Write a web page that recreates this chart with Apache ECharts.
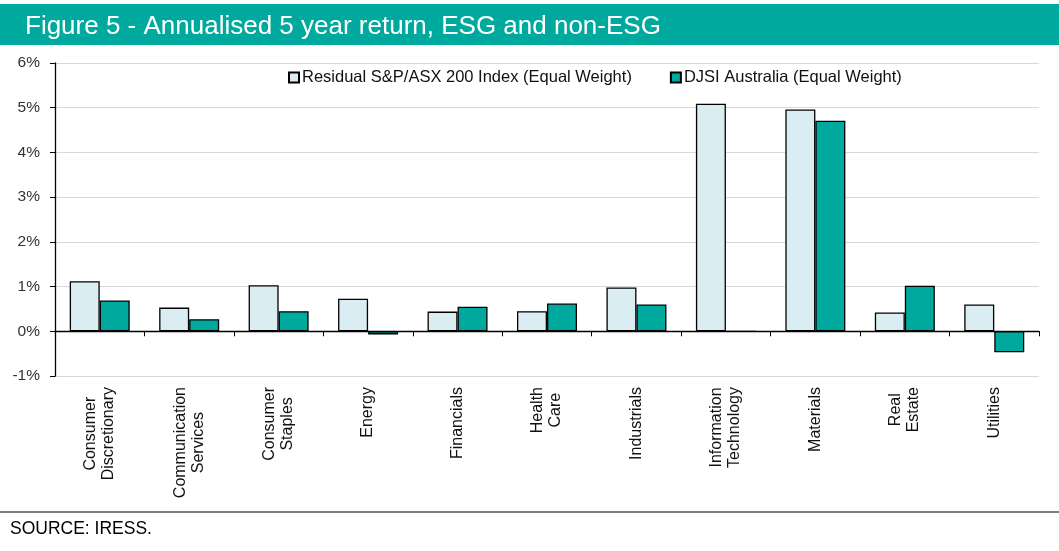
<!DOCTYPE html>
<html>
<head>
<meta charset="utf-8">
<script src="https://cdn.jsdelivr.net/npm/echarts@6/dist/echarts.min.js"></script>
<style>
html,body{margin:0;padding:0;background:#fff;}
#c{width:1059px;height:551px;}
</style>
</head>
<body>
<div id="c"></div>
<script>
const categories = [
  'Consumer\nDiscretionary', 'Communication\nServices', 'Consumer\nStaples', 'Energy',
  'Financials', 'Health\nCare', 'Industrials', 'Information\nTechnology', 'Materials',
  'Real\nEstate', 'Utilities'
];
const residualValues = [1.12, 0.53, 1.03, 0.73, 0.44, 0.45, 0.98, 5.09, 4.96, 0.42, 0.60];
const djsiValues = [0.69, 0.27, 0.45, -0.07, 0.55, 0.62, 0.60, 0.00, 4.71, 1.02, -0.47];
const seriesNames = ['Residual S&P/ASX 200 Index (Equal Weight)', 'DJSI Australia (Equal Weight)'];
const yTicks = { min: -1, max: 6, interval: 1 };
const titleText = 'Figure 5 - Annualised 5 year return, ESG and non-ESG';
const sourceText = 'SOURCE: IRESS.';

const FONT = '"Liberation Sans", Arial, sans-serif';
const chart = echarts.init(document.getElementById('c'));
chart.setOption({
  animation: false,
  backgroundColor: '#fff',
  title: {
    text: titleText,
    left: 20,
    top: 9,
    textStyle: { color: '#fff', fontFamily: FONT, fontSize: 26, fontWeight: 'normal' }
  },
  graphic: [
    { type: 'rect', z: -1, shape: { x: 0, y: 4, width: 1059, height: 41 }, style: { fill: '#00a99d' } },
    { type: 'line', shape: { x1: 0, y1: 512, x2: 1059, y2: 512 }, style: { stroke: '#000', lineWidth: 1.2 } },
    { type: 'text', left: 10, top: 520, style: { text: sourceText, fill: '#000', font: '17.5px ' + FONT } }
  ],
  legend: {
    top: 64,
    left: 283,
    itemWidth: 10,
    itemHeight: 10,
    itemGap: 38,
    icon: 'rect',
    textStyle: { fontFamily: FONT, fontSize: 16.5, color: '#111', padding: [0, 0, 0, -2] },
    data: seriesNames
  },
  grid: { left: 55, right: 20, top: 63, bottom: 175, containLabel: false },
  xAxis: {
    type: 'category',
    data: categories,
    axisLine: { onZero: true, lineStyle: { color: '#000', width: 1.3 } },
    axisTick: { show: true, alignWithLabel: false, length: 5, lineStyle: { color: '#000' } },
    axisLabel: {
      interval: 0,
      rotate: 90,
      margin: 11,
      color: '#111',
      fontFamily: FONT,
      fontSize: 16,
      lineHeight: 18,
      formatter: function (v) {
        return v.split('\n').map(function (l) { return '{c|' + l + '}'; }).join('\n');
      },
      rich: { c: { align: 'center', fontFamily: FONT, fontSize: 16, lineHeight: 18, color: '#111' } }
    },
    splitLine: { show: false }
  },
  yAxis: {
    type: 'value',
    min: yTicks.min,
    max: yTicks.max,
    interval: yTicks.interval,
    axisLine: { show: true, lineStyle: { color: '#000', width: 1.3 } },
    axisTick: { show: true, length: 5, lineStyle: { color: '#000' } },
    axisLabel: { formatter: '{value}%', color: '#333', fontFamily: FONT, fontSize: 15.5, margin: 15 },
    splitLine: { show: true, lineStyle: { color: '#d9d9d9', width: 1 } }
  },
  series: [
    {
      name: seriesNames[0],
      type: 'bar',
      data: residualValues,
      barWidth: 30,
      barGap: '0%',
      itemStyle: { color: '#daedf2', borderColor: '#000', borderWidth: 1.3 }
    },
    {
      name: seriesNames[1],
      type: 'bar',
      data: djsiValues,
      barWidth: 30,
      barGap: '0%',
      itemStyle: { color: '#00a99d', borderColor: '#000', borderWidth: 1.3 }
    }
  ]
});
</script>
</body>
</html>
